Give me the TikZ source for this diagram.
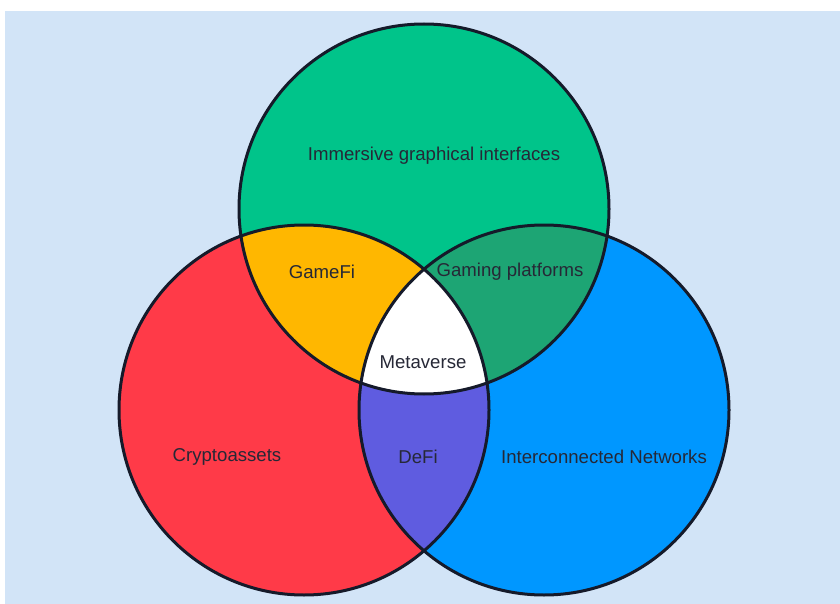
\documentclass[tikz,border=0pt]{standalone}
\usepackage{fontspec}
\setmainfont{Liberation Sans}
\definecolor{bg}{HTML}{D2E4F7}
\definecolor{cgreen}{HTML}{00C48A}
\definecolor{cred}{HTML}{FF3A48}
\definecolor{cblue}{HTML}{0097FF}
\definecolor{cgamefi}{HTML}{FFB700}
\definecolor{cgaming}{HTML}{1DA574}
\definecolor{cdefi}{HTML}{5F5CE0}
\definecolor{edge}{HTML}{151A2A}
\definecolor{txt}{HTML}{262836}
\tikzset{
  lbl/.style={text=txt, font=\fontsize{18.6}{20}\selectfont, inner sep=0pt},
  ring/.style={draw=edge, line width=3pt}
}
\begin{document}
\begin{tikzpicture}[x=1pt,y=-1pt]
\useasboundingbox (0,0) rectangle (840,604);
\fill[white] (0,0) rectangle (840,604);
\fill[bg] (5,11) rectangle (840,604);
\def\Gc{(424,209) circle[radius=185pt]}
\def\Rc{(304,410) circle[radius=185pt]}
\def\Bc{(544,410) circle[radius=185pt]}
% base circles
\fill[cgreen] \Gc;
\fill[cred] \Rc;
\fill[cblue] \Bc;
% pairwise intersections
\begin{scope}\clip \Gc; \fill[cgamefi] \Rc; \end{scope}
\begin{scope}\clip \Gc; \fill[cgaming] \Bc; \end{scope}
\begin{scope}\clip \Rc; \fill[cdefi] \Bc; \end{scope}
% triple intersection
\begin{scope}\clip \Gc; \clip \Rc; \fill[white] \Bc; \end{scope}
% outlines
\draw[ring] \Gc;
\draw[ring] \Rc;
\draw[ring] \Bc;
% labels
\node[lbl] (imm) at (434,156) {Immersive graphical interfaces};
\node[lbl] (gamefi) at (322,272) {GameFi};
\node[lbl] (gaming) at (510,272) {Gaming platforms};
\node[lbl] (meta) at (423,362) {Metaverse};
\node[lbl] (crypto) at (227,457) {Cryptoassets};
\node[lbl] (defi) at (418,457) {DeFi};
\node[lbl] (net) at (604,457) {Interconnected Networks};
\end{tikzpicture}
\end{document}
